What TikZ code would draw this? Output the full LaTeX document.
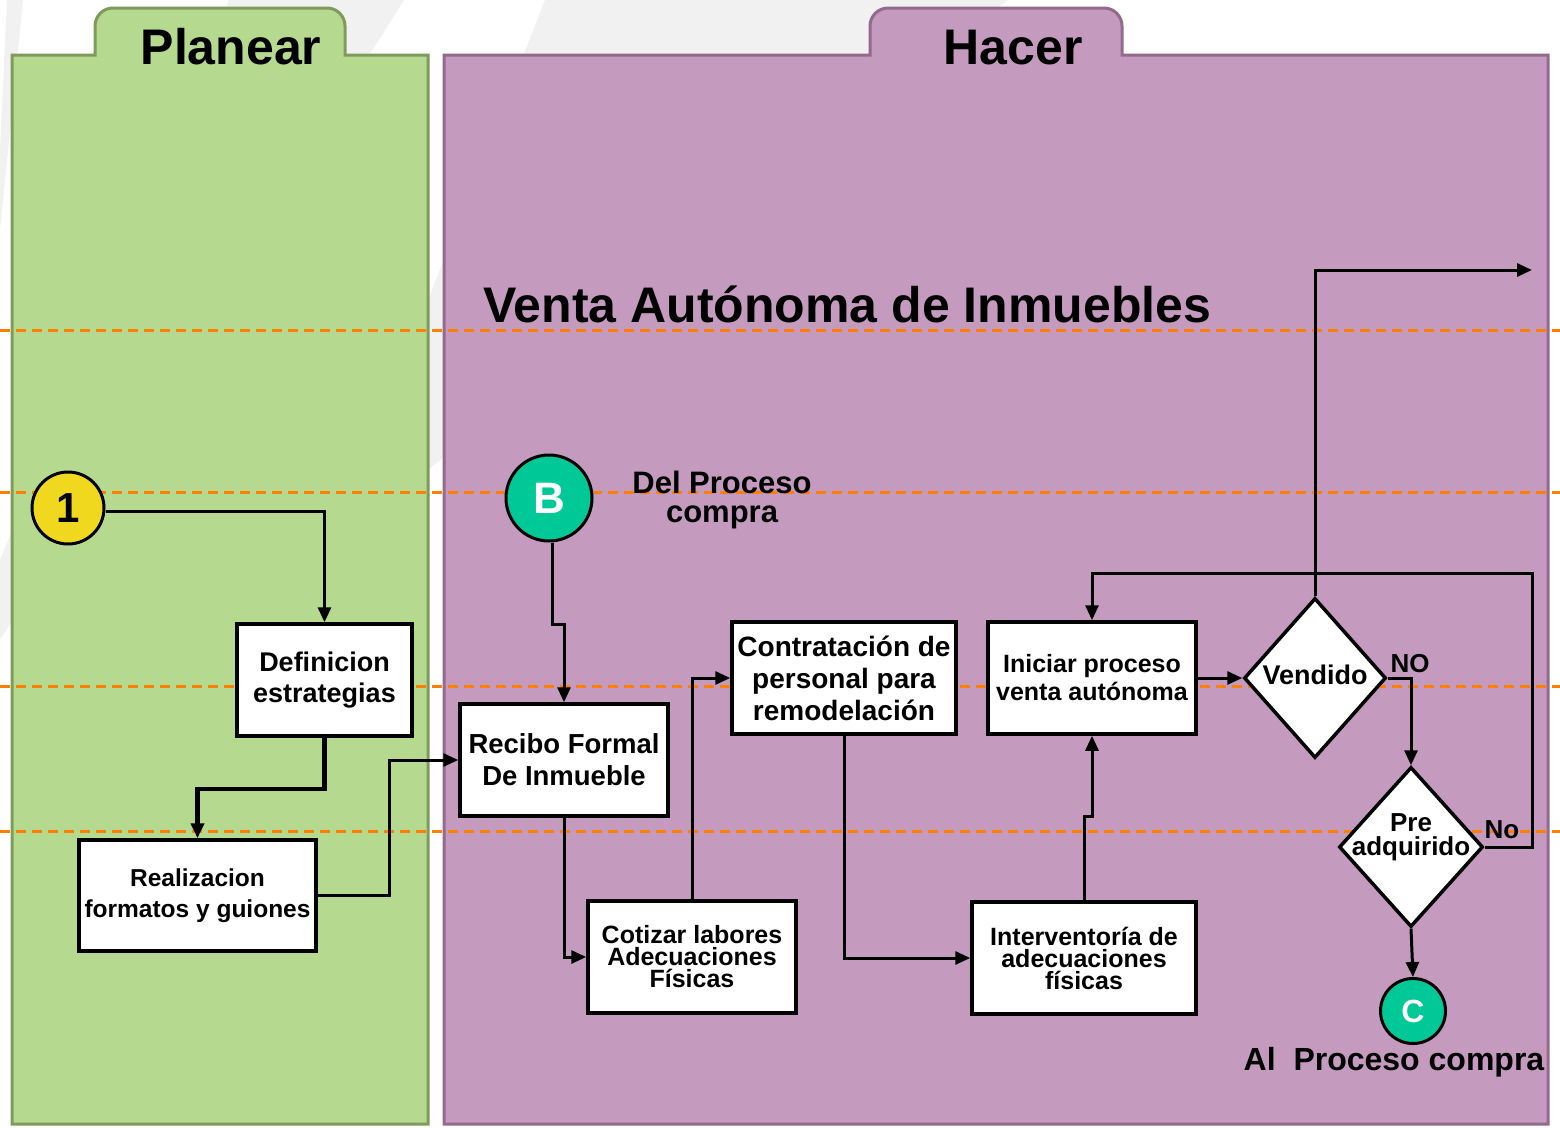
\documentclass[tikz,border=0pt]{standalone}
\usepackage{fontspec}
\setmainfont{Liberation Sans}
\usetikzlibrary{shapes.geometric,arrows.meta,calc}
\definecolor{gfill}{HTML}{B5D98F}
\definecolor{gline}{HTML}{7E9B5C}
\definecolor{pfill}{HTML}{C49ABF}
\definecolor{pline}{HTML}{946A8C}
\definecolor{teal}{HTML}{00C997}
\definecolor{yel}{HTML}{F0D81E}
\definecolor{dorange}{HTML}{FF7F00}
\definecolor{wm}{HTML}{F1F1F1}
\newcommand\myfs[2]{\fontsize{#1}{#2}\selectfont\bfseries}
\begin{document}
\begin{tikzpicture}[x=1pt,y=-1pt,
  box/.style={draw=black, line width=3.5pt, fill=white, rectangle, inner sep=0pt, align=center},
  dia/.style={diamond, draw=black, line width=3.5pt, fill=white, inner sep=0pt},
  conn/.style={line width=3pt, -{Triangle[length=15pt,width=13pt]}},
  orangedash/.style={draw=dorange, line width=3pt, dash pattern=on 10pt off 6pt},
  lbl/.style={inner sep=0pt, align=center}
]
\useasboundingbox (0,0) rectangle (1560,1127);
\fill[white] (0,0) rectangle (1560,1127);
% faint watermark stripes
\fill[wm] (229,0) -- (404,0) -- (0,640) -- (0,560) -- cycle;
\fill[wm] (545,0) -- (1008,0) -- (428,470) -- (428,300) -- cycle;
\fill[wm] (7,0) -- (23,0) -- (0,230) -- (0,150) -- cycle;
% panels
\draw[fill=gfill, draw=gline, line width=3pt] (12,1124) -- (12,55) -- (95,55) [rounded corners=18pt] -- (95,8) -- (345,8) [sharp corners] -- (345,55) -- (428,55) -- (428,1124) -- cycle;
\draw[fill=pfill, draw=pline, line width=3pt] (444,1124) -- (444,55) -- (870,55) [rounded corners=18pt] -- (870,8) -- (1122,8) [sharp corners] -- (1122,55) -- (1548,55) -- (1548,1124) -- cycle;
\node[lbl, anchor=base, font=\myfs{50}{56}] (tplan) at (231,64) {Planear};
\node[lbl, anchor=base, font=\myfs{50}{56}] (thacer) at (1013,64) {Hacer};
% dashed lines
\foreach \yy in {330,492,686,831} \draw[orangedash] (0,\yy) -- (1560,\yy);
\node[lbl, anchor=base west, font=\myfs{50}{56}] (title) at (483,322) {Venta Autónoma de Inmuebles};
% circles and labels
\node[circle, draw=black, line width=3pt, fill=yel, minimum size=72pt, inner sep=0pt, font=\myfs{42}{46}] (c1) at (68,508) {1};
\node[circle, draw=black, line width=3pt, fill=teal, minimum size=86pt, inner sep=0pt, text=white, font=\myfs{44}{48}] (cB) at (549,498) {B};
\node[circle, draw=black, line width=3pt, fill=teal, minimum size=65pt, inner sep=0pt, text=white, font=\myfs{32}{34}] (cC) at (1413,1011) {C};
\node[lbl, font=\myfs{31}{29}] (delp) at (722,500) {Del Proceso\\compra};
\node[lbl, font=\myfs{32}{36}] (alp) at (1394,1062) {Al\ \ Proceso compra};
% boxes
\node[box, minimum width=175pt, minimum height=112pt, font=\myfs{27}{31}] (def) at (324.5,680) {Definicion\\estrategias};
\node[box, minimum width=237pt, minimum height=111pt, font=\myfs{24.5}{31}] (real) at (197.5,895.5) {Realizacion\\formatos y guiones};
\node[box, minimum width=208pt, minimum height=112pt, font=\myfs{27.5}{32}] (rec) at (564,760) {Recibo Formal\\De Inmueble};
\node[box, minimum width=208pt, minimum height=112pt, font=\myfs{25}{22}] (cot) at (692,957) {Cotizar labores\\Adecuaciones\\Físicas};
\node[box, minimum width=224pt, minimum height=112pt, font=\myfs{28}{32}] (con) at (844,678) {Contratación de\\personal para\\remodelación};
\node[box, minimum width=224pt, minimum height=112pt, font=\myfs{25}{22}] (int) at (1084,958) {Interventoría de\\adecuaciones\\físicas};
\node[box, minimum width=208pt, minimum height=112pt, font=\myfs{25}{28}] (ini) at (1092,678) {Iniciar proceso\\venta autónoma};
\node[dia, minimum width=142pt, minimum height=160pt] (vend) at (1315,678) {};
\node[lbl, font=\myfs{27}{30}] (vendt) at (1315,675) {Vendido};
\node[dia, minimum width=144pt, minimum height=160pt] (pre) at (1411,847) {};
\node[lbl, font=\myfs{26}{24}] (pret) at (1411,837) {Pre\\adquirido};
\node[lbl, font=\myfs{26}{28}] (lNO) at (1410,664) {NO};
\node[lbl, font=\myfs{26}{28}] (lNo) at (1502,830) {No};
\coordinate (out) at (1532,270);
% connectors
\draw[conn] ($(c1.east)+(0,3)$) -| (def.north);
\draw[conn, line width=4.5pt] (def.south) -- ++(0,51) -| (real.north);
\draw[conn] (real.east) -- ++(72,0) |- (rec.west);
\draw[conn] ($(cB.south)+(3,0)$) -- ++(0,82) -| (rec.north);
\draw[conn] (rec.south) |- (cot.west);
\draw[conn] (cot.north) |- (con.west);
\draw[conn] (con.south) |- (int.west);
\draw[conn] (int.north) -- ++(0,-84) -| (ini.south);
\draw[conn] (ini.east) -- (vend.west);
\draw[conn] (vend.north) |- (out);
\draw[conn] (vend.east) -| (pre.north);
\draw[conn] (pre.east) -- ++(48,0) -- ++(0,-274) -| (ini.north);
\draw[conn] (pre.south) -- (cC.north);
\end{tikzpicture}
\end{document}
